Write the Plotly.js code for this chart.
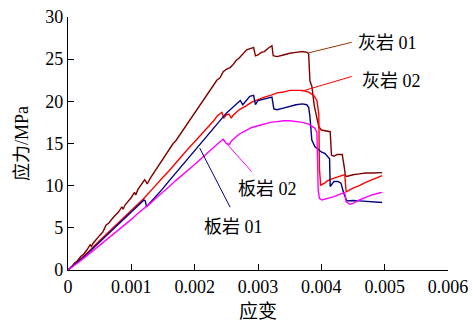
<!DOCTYPE html>
<html>
<head>
<meta charset="utf-8">
<script src="https://cdn.plot.ly/plotly-3.0.1.min.js"></script>
<style>html,body{margin:0;padding:0;background:#fff;}#chart{width:473px;height:324px;}</style>
</head>
<body>
<div id="chart"></div>
<script>
// 灰岩 01 : [strain, stress MPa]
const huiyan01 = [[0,0],[0.00005,0.3],[0.0001,0.8],[0.00015,1.1],[0.0002,1.6],[0.00025,1.9],[0.0003,2.4],[0.00035,3.0],[0.00037,2.8],[0.0004,3.2],[0.0005,4.1],[0.00055,4.5],[0.0006,5.3],[0.00065,5.6],[0.0007,6.1],[0.0008,6.9],[0.00085,7.5],[0.00087,7.2],[0.0009,7.7],[0.001,8.6],[0.00105,9.2],[0.00107,8.9],[0.0011,9.5],[0.00116,10.1],[0.00121,10.7],[0.00123,10.5],[0.00125,10.2],[0.0013,10.9],[0.00139,11.9],[0.00145,12.7],[0.0015,13.1],[0.0016,14.3],[0.00166,15.0],[0.0017,15.3],[0.0018,16.4],[0.0019,17.5],[0.00193,17.8],[0.002,18.6],[0.0021,19.7],[0.00219,20.6],[0.0023,21.9],[0.00235,22.5],[0.0024,22.8],[0.00245,23.5],[0.0025,23.8],[0.00256,24.0],[0.0026,24.3],[0.00266,24.9],[0.0027,25.1],[0.00275,25.5],[0.00282,26.1],[0.0029,26.3],[0.00293,26.4],[0.00296,25.4],[0.003,25.5],[0.00305,25.8],[0.0031,25.9],[0.00316,26.3],[0.0032,26.5],[0.00322,26.6],[0.00324,25.4],[0.0033,25.3],[0.0034,25.5],[0.0035,25.7],[0.0036,25.8],[0.0037,25.9],[0.00378,25.8],[0.0038,25.6],[0.00382,22.4],[0.00385,21.8],[0.00389,19.4],[0.00392,18.2],[0.00396,17.0],[0.004,16.6],[0.0041,16.5],[0.00414,16.4],[0.00416,13.6],[0.0042,13.5],[0.00425,13.7],[0.00433,13.7],[0.00436,12.3],[0.00438,11.2],[0.0044,11.1],[0.0045,11.3],[0.0046,11.4],[0.0047,11.5],[0.0048,11.5],[0.0049,11.55],[0.00496,11.55]];
// 灰岩 02
const huiyan02 = [[0,0],[0.0001,0.6],[0.0002,1.3],[0.0003,2.0],[0.0004,2.8],[0.0005,3.5],[0.0006,4.2],[0.0007,4.9],[0.0008,5.6],[0.0009,6.4],[0.001,7.1],[0.0011,7.8],[0.0012,8.5],[0.00132,9.5],[0.0014,10.2],[0.0015,11.0],[0.0016,11.8],[0.0017,12.7],[0.0018,13.5],[0.0019,14.4],[0.002,15.2],[0.0021,16.0],[0.0022,16.9],[0.0023,17.7],[0.00236,18.3],[0.0024,18.6],[0.00243,18.7],[0.00246,18.0],[0.0025,18.4],[0.00254,18.5],[0.00258,18.0],[0.0026,18.3],[0.00266,18.7],[0.0027,19.0],[0.0028,19.4],[0.0029,19.9],[0.003,20.2],[0.0031,20.5],[0.0032,20.7],[0.0033,21.0],[0.0034,21.1],[0.0035,21.3],[0.0036,21.3],[0.0037,21.3],[0.0038,21.1],[0.00388,20.7],[0.00393,20.1],[0.00396,18.5],[0.00397,12.0],[0.00399,10.0],[0.004,10.1],[0.00405,10.3],[0.0041,10.6],[0.0042,10.9],[0.0043,11.1],[0.00437,11.3],[0.00439,9.4],[0.0044,9.3],[0.0045,9.7],[0.0046,10.0],[0.0047,10.4],[0.0048,10.7],[0.0049,11.0],[0.00496,11.2]];
// 板岩 01
const banyan01 = [[0,0],[0.0001,0.6],[0.0002,1.2],[0.0003,1.9],[0.0004,2.6],[0.0005,3.3],[0.0006,4.0],[0.0007,4.7],[0.0008,5.4],[0.0009,6.1],[0.001,6.8],[0.0011,7.5],[0.00116,8.0],[0.0012,8.3],[0.00122,8.2],[0.00124,7.5],[0.0013,8.0],[0.0014,8.8],[0.00148,9.5],[0.0016,10.6],[0.0017,11.5],[0.0018,12.4],[0.0019,13.3],[0.002,14.2],[0.0021,15.1],[0.0022,16.0],[0.0023,16.9],[0.0024,17.8],[0.0025,18.6],[0.00256,19.0],[0.00265,19.6],[0.00272,20.1],[0.00276,19.6],[0.0028,20.0],[0.00287,20.6],[0.00293,20.7],[0.00296,19.6],[0.003,20.1],[0.0031,20.3],[0.0032,20.5],[0.00322,20.5],[0.00325,19.1],[0.0033,19.0],[0.0034,19.2],[0.0035,19.4],[0.0036,19.6],[0.0037,19.7],[0.00377,19.6],[0.0038,19.3],[0.00382,18.2],[0.00385,15.4],[0.0039,14.6],[0.004,14.0],[0.00406,13.8],[0.00413,13.2],[0.00414,9.9],[0.0042,10.5],[0.00426,10.5],[0.00431,10.3],[0.00435,9.2],[0.0044,8.2],[0.0045,8.25],[0.0046,8.2],[0.0047,8.15],[0.0048,8.1],[0.0049,8.0],[0.00496,8.0]];
// 板岩 02
const banyan02 = [[0,0],[0.0001,0.5],[0.0002,1.1],[0.0003,1.7],[0.0004,2.3],[0.0005,3.0],[0.0006,3.6],[0.0007,4.2],[0.0008,4.8],[0.0009,5.4],[0.001,6.0],[0.0011,6.7],[0.00121,7.3],[0.0013,7.9],[0.0014,8.6],[0.0015,9.2],[0.0016,9.9],[0.0017,10.6],[0.0018,11.2],[0.0019,11.9],[0.002,12.5],[0.0021,13.2],[0.0022,13.9],[0.0023,14.5],[0.0024,15.2],[0.00245,15.5],[0.0025,15.0],[0.00255,14.9],[0.00258,15.3],[0.00261,15.5],[0.0027,16.1],[0.0028,16.5],[0.0029,16.9],[0.003,17.1],[0.0031,17.3],[0.0032,17.5],[0.0033,17.6],[0.0034,17.7],[0.0035,17.7],[0.0036,17.6],[0.0037,17.5],[0.0038,17.3],[0.00385,17.1],[0.0039,16.8],[0.00393,16.3],[0.00394,14.0],[0.00395,9.5],[0.00397,8.5],[0.00401,8.3],[0.0041,8.5],[0.0042,8.7],[0.0043,9.0],[0.00437,9.2],[0.00439,8.1],[0.00445,7.8],[0.0045,7.9],[0.0046,8.3],[0.0047,8.6],[0.0048,8.9],[0.0049,9.1],[0.00496,9.2]];

const seriesNames = ['灰岩 01', '灰岩 02', '板岩 01', '板岩 02'];
const xTicks = [0, 0.001, 0.002, 0.003, 0.004, 0.005, 0.006];
const xTickText = ['0', '0.001', '0.002', '0.003', '0.004', '0.005', '0.006'];
const yTicks = [0, 5, 10, 15, 20, 25, 30];

const allData = [huiyan01, huiyan02, banyan01, banyan02];
const colors = ['#800000', '#ff0000', '#000080', '#ff00ff'];

const traces = allData.map((d, i) => ({
  type: 'scatter', mode: 'lines', name: seriesNames[i],
  x: d.map(p => p[0]), y: d.map(p => p[1]),
  line: {color: colors[i], width: 1.4}
}));

const FONT = '"Liberation Serif", "Noto Sans CJK SC", serif';

const labelLines = [
  {x0: 0.0038, y0: 25.75, x1: 0.00448, y1: 27.0, color: '#993300'},
  {x0: 0.00369, y0: 21.2, x1: 0.00448, y1: 22.95, color: '#ff0000'},
  {x0: 0.00245, y0: 15.43, x1: 0.0029, y1: 11.67, color: '#ff00ff'},
  {x0: 0.00208, y0: 14.45, x1: 0.00256, y1: 7.44, color: '#000080'}
];
const shapes = labelLines.map(l => ({type: 'line', xref: 'x', yref: 'y', x0: l.x0, y0: l.y0, x1: l.x1, y1: l.y1, line: {color: l.color, width: 1}}));

const labelPos = [[0.00455, 26.93], [0.00461, 22.42], [0.00211, 5.14], [0.00265, 9.6]];
const annotations = labelPos.map((p, i) => ({
  x: p[0], y: p[1], xref: 'x', yref: 'y', text: seriesNames[i], showarrow: false,
  xanchor: 'left', yanchor: 'middle', font: {family: FONT, size: 18, color: '#000'}
}));

const layout = {
  width: 473, height: 324,
  margin: {l: 68, r: 25, t: 17, b: 54},
  paper_bgcolor: '#fff', plot_bgcolor: '#fff',
  showlegend: false,
  font: {family: FONT, size: 18, color: '#000'},
  xaxis: {
    range: [0, 0.006], tickvals: xTicks, ticktext: xTickText,
    showline: true, linecolor: '#000', linewidth: 1.2,
    ticks: 'inside', ticklen: 6, tickcolor: '#000', tickwidth: 1,
    showgrid: false, zeroline: false,
    tickfont: {family: FONT, size: 18},
    title: {text: '应变', font: {family: FONT, size: 19}, standoff: 9}
  },
  yaxis: {
    range: [0, 30], tickvals: yTicks,
    showline: true, linecolor: '#000', linewidth: 1.2,
    ticks: 'inside', ticklen: 6, tickcolor: '#000', tickwidth: 1,
    showgrid: false, zeroline: false,
    tickfont: {family: FONT, size: 18},
    title: {text: '应力/MPa', font: {family: FONT, size: 18}, standoff: 12}
  },
  shapes: shapes,
  annotations: annotations
};

Plotly.newPlot('chart', traces, layout, {staticPlot: true, displayModeBar: false});
</script>
</body>
</html>
